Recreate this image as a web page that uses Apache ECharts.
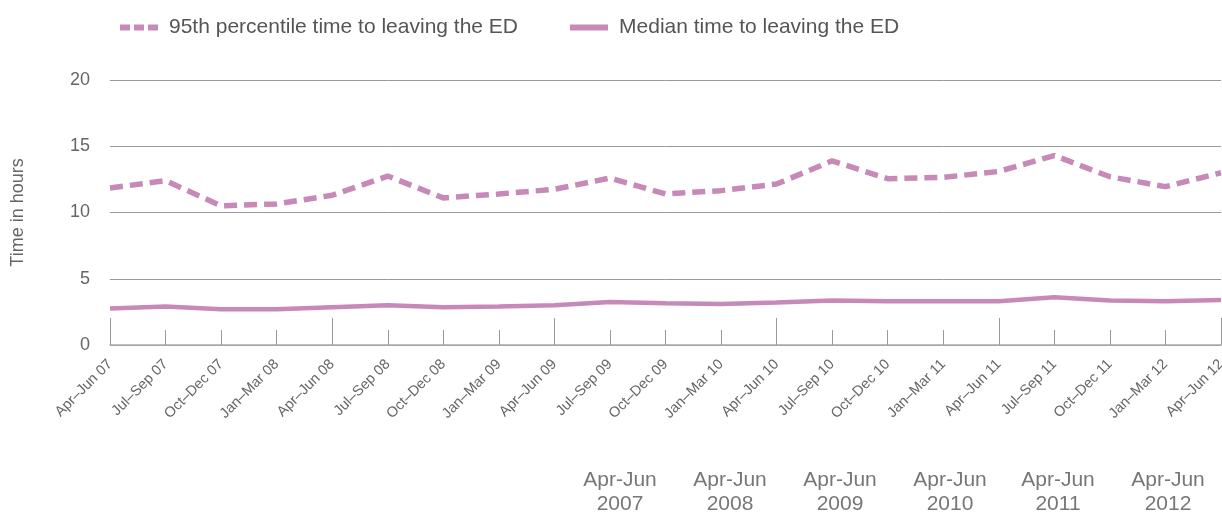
<!DOCTYPE html>
<html>
<head>
<meta charset="utf-8">
<script src="https://cdn.jsdelivr.net/npm/echarts@6/dist/echarts.min.js"></script>
<style>html,body{margin:0;padding:0;background:#fff}#c{width:1222px;height:514px}</style>
</head>
<body>
<div id="c"></div>
<script>
const categories = ["Apr–Jun 07","Jul–Sep 07","Oct–Dec 07","Jan–Mar 08","Apr–Jun 08","Jul–Sep 08","Oct–Dec 08","Jan–Mar 09","Apr–Jun 09","Jul–Sep 09","Oct–Dec 09","Jan–Mar 10","Apr–Jun 10","Jul–Sep 10","Oct–Dec 10","Jan–Mar 11","Apr–Jun 11","Jul–Sep 11","Oct–Dec 11","Jan–Mar 12","Apr–Jun 12"];
const p95 = [11.85,12.4,10.5,10.65,11.3,12.75,11.1,11.4,11.75,12.6,11.4,11.65,12.15,13.9,12.55,12.65,13.1,14.3,12.7,11.95,13.0];
const median = [2.75,2.9,2.7,2.7,2.85,3.0,2.85,2.9,3.0,3.25,3.15,3.1,3.2,3.35,3.3,3.3,3.3,3.6,3.35,3.3,3.4];
const yTicks = [0,5,10,15,20];
const yearNotes = ["Apr-Jun\n2007","Apr-Jun\n2008","Apr-Jun\n2009","Apr-Jun\n2010","Apr-Jun\n2011","Apr-Jun\n2012"];
const seriesNames = ["95th percentile time to leaving the ED","Median time to leaving the ED"];

const color = '#c689b8';
const font = 'Liberation Sans, Arial, sans-serif';
const chart = echarts.init(document.getElementById('c'), null, {renderer:'canvas'});
const noteX = [620,730,840,950,1058,1168];
chart.setOption({
  animation:false,
  textStyle:{fontFamily:font},
  legend:{
    left:112, top:12, itemWidth:38, itemHeight:14, itemGap:49,
    itemStyle:{opacity:0},
    lineStyle:{width:6},
    textStyle:{fontSize:21, color:'#555', fontFamily:font, padding:[0,0,0,6]},
    data:[
      {name:seriesNames[0], lineStyle:{width:6, type:[10,4]}},
      {name:seriesNames[1], lineStyle:{width:6, type:'solid'}}
    ]
  },
  grid:{left:110, right:1, top:80, bottom:169, containLabel:false, outerBoundsMode:'none'},
  xAxis:[{
    type:'category', data:categories, boundaryGap:false,
    axisLine:{lineStyle:{color:'#aaa', width:1.5}},
    axisTick:{inside:true, length:15, interval:0, lineStyle:{color:'#999'}},
    axisLabel:{rotate:45, interval:0, fontSize:14.5, color:'#666', margin:17, fontFamily:font},
    splitLine:{show:false}
  },{
    type:'category', data:categories, boundaryGap:false, position:'bottom',
    axisLine:{show:false},
    axisTick:{inside:true, length:27, interval:3, lineStyle:{color:'#999'}},
    axisLabel:{show:false}
  }],
  yAxis:{
    type:'value', min:yTicks[0], max:yTicks[yTicks.length-1], interval:5,
    name:'Time in hours', nameLocation:'middle', nameGap:83, nameRotate:90,
    nameTextStyle:{fontSize:18, color:'#666', fontFamily:font},
    axisLine:{show:false}, axisTick:{show:false},
    axisLabel:{fontSize:18, color:'#666', margin:20, fontFamily:font},
    splitLine:{lineStyle:{color:'#999', width:1}}
  },
  series:[{
    name:seriesNames[0], type:'line', data:p95, symbol:'none', smooth:false,
    lineStyle:{color:color, width:5.5, type:[13,7]}, itemStyle:{color:color}
  },{
    name:seriesNames[1], type:'line', data:median, symbol:'none',
    lineStyle:{color:color, width:4.5}, itemStyle:{color:color}
  }],
  graphic: yearNotes.map((t,i)=>({
    type:'text', x:noteX[i], y:468,
    style:{text:t, fontSize:21, fill:'#777', fontFamily:font, align:'center', verticalAlign:'top', lineHeight:24}
  }))
});
</script>
</body>
</html>
